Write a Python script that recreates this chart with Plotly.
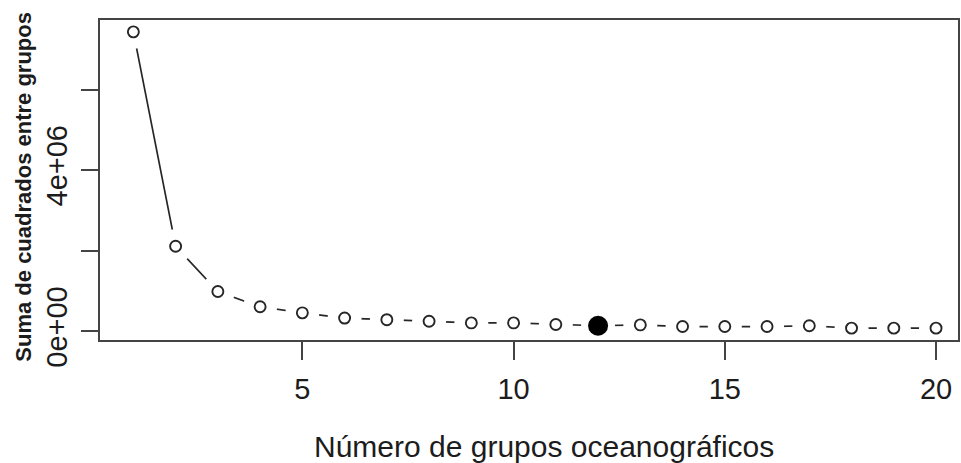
import plotly.graph_objects as go

# Within-group sum of squares for k = 1..20 oceanographic groups
n_grupos = list(range(1, 21))
suma_cuadrados = [7.43e6, 2.11e6, 0.99e6, 0.61e6, 0.46e6, 0.33e6, 0.29e6, 0.25e6,
                  0.21e6, 0.21e6, 0.17e6, 0.14e6, 0.16e6, 0.12e6, 0.12e6, 0.12e6,
                  0.14e6, 0.08e6, 0.08e6, 0.08e6]
k_elegido = 12

x_ticks = [5, 10, 15, 20]
y_ticks = [0, 2e6, 4e6, 6e6]
y_ticktext = ["0e+00", "", "4e+06", ""]

W, H = 961, 463
L, R, T, B = 100, 1, 20, 123
INK = "#1c1c1c"
AXC = "#444444"
FONT = "Liberation Sans, Arial, sans-serif"

# axis ranges padded by 4% like base R graphics
ymin, ymax = min(suma_cuadrados), max(suma_cuadrados)
pad = 0.04 * (ymax - ymin)
y_range = [ymin - pad, ymax + pad]
x_range = [0.21, 20.52]


def px_x(px):
    return (px - L) / (W - L - R)


def px_y(py):
    return (H - B - py) / (H - B - T)


fig = go.Figure()

# connecting line (type "b": gaps around each point)
fig.add_trace(go.Scatter(x=n_grupos, y=suma_cuadrados, mode="lines",
                         line=dict(color="#262626", width=1.7),
                         hoverinfo="skip", showlegend=False))
# white discs that open the gaps in the line near each point
fig.add_trace(go.Scatter(x=n_grupos, y=suma_cuadrados, mode="markers",
                         marker=dict(symbol="circle", size=34, color="white",
                                     line=dict(width=0)),
                         hoverinfo="skip", showlegend=False))
# open circles
fig.add_trace(go.Scatter(x=n_grupos, y=suma_cuadrados, mode="markers",
                         marker=dict(symbol="circle-open", size=11,
                                     color="#262626", line=dict(width=1.9)),
                         showlegend=False))
# selected number of groups
fig.add_trace(go.Scatter(x=[k_elegido], y=[suma_cuadrados[k_elegido - 1]],
                         mode="markers",
                         marker=dict(symbol="circle", size=20, color="black",
                                     line=dict(width=0)),
                         showlegend=False))

fig.update_layout(
    width=W, height=H,
    margin=dict(l=L, r=R, t=T, b=B, pad=0),
    paper_bgcolor="white", plot_bgcolor="white",
    font=dict(family=FONT, color=INK),
    xaxis=dict(range=x_range, tickvals=x_ticks, ticks="outside", ticklen=18,
               tickwidth=2, tickcolor=AXC, showline=True, linecolor=AXC,
               linewidth=2, mirror=True, showgrid=False, zeroline=False,
               tickfont=dict(size=29, color=INK), ticklabelstandoff=4),
    yaxis=dict(range=y_range, tickvals=y_ticks, ticktext=y_ticktext,
               ticks="outside", ticklen=17, tickwidth=2, tickcolor=AXC,
               showline=True, linecolor=AXC, linewidth=2, mirror=True,
               showgrid=False, zeroline=False, tickangle=-90,
               tickfont=dict(size=29, color=INK), ticklabelstandoff=2),
    annotations=[
        dict(text="Número de grupos oceanográficos", xref="paper", yref="paper",
             x=px_x(545), y=px_y(446), xanchor="center", yanchor="middle",
             showarrow=False, font=dict(size=30, color=INK, family=FONT)),
        dict(text="<b>Suma de cuadrados entre grupos</b>", xref="paper",
             yref="paper", x=px_x(22.5), y=px_y(187), xanchor="center",
             yanchor="middle", textangle=-90, showarrow=False,
             font=dict(size=22, color=INK, family=FONT)),
    ],
)

fig.write_html("out.html")
